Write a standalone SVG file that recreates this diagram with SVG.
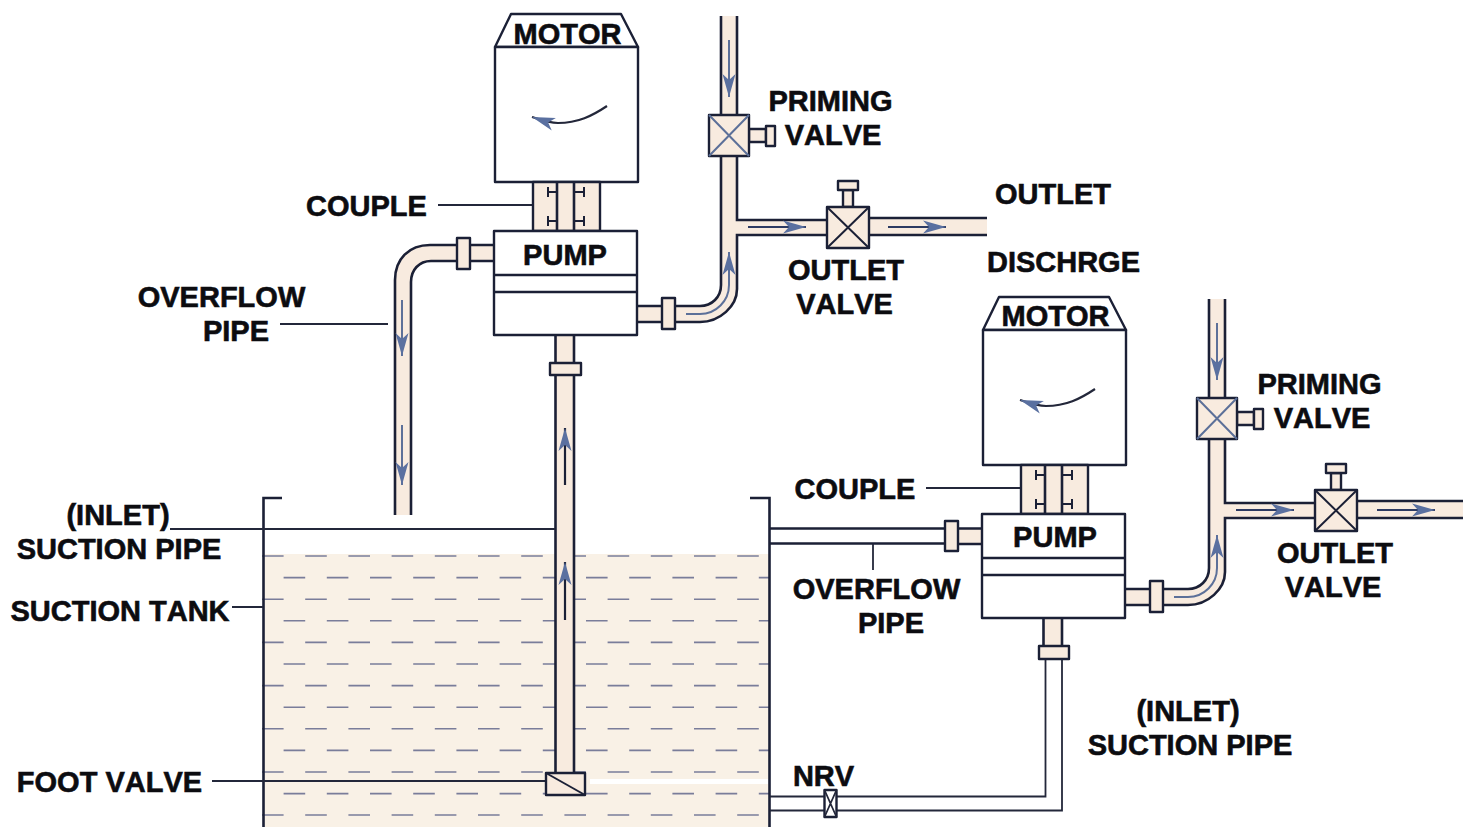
<svg xmlns="http://www.w3.org/2000/svg" xmlns:xlink="http://www.w3.org/1999/xlink" width="1468" height="827" viewBox="0 0 1468 827">
<style>
text{font-family:"Liberation Sans",Arial,sans-serif;font-weight:700;font-size:29px;fill:#0c0c10;text-anchor:middle;stroke:#0c0c10;stroke-width:.6;font-kerning:none}
.box{fill:#fff;stroke:#1b2036;stroke-width:2.4;stroke-linejoin:round}
.tan{fill:#f8ebdf;stroke:#1b2036;stroke-width:2.4;stroke-linejoin:round}
.fill{fill:#f8ebdf;stroke:none}
.ln{fill:none;stroke:#1b2036;stroke-width:2.6}
.thin{fill:none;stroke:#23273a;stroke-width:1.8}
.xb{fill:none;stroke:#5c7099;stroke-width:2}
.xd{fill:none;stroke:#1b2036;stroke-width:2}
.arr{fill:none;stroke:#2c3a62;stroke-width:2}
.dash{fill:none;stroke:#7a7d9a;stroke-width:1.6;stroke-dasharray:21.6 21.6}
</style>
<defs>
<marker id="head" markerUnits="userSpaceOnUse" markerWidth="26" markerHeight="16" refX="23" refY="8" orient="auto">
<path d="M0 1.500 L23 8 L0 14.500 L6 8 Z" fill="#5a70a0"/>
</marker>
<g id="motor-shape">
<path class="box" d="M495 47 L511 14 H621 L638 47 Z"/>
<rect class="box" x="495" y="47" width="143" height="135"/>
<path fill="none" stroke="#23273a" stroke-width="2.200" marker-end="url(#head)" d="M607 106 C592 116 578 123 558 123 C549 123 541 120 532 117"/>
</g>
<g id="coupling-shape">
<rect class="tan" x="533" y="182" width="67" height="49"/>
<path class="ln" d="M557 182 V231 M574 182 V231"/>
<path class="xd" d="M557 192 H548 M548 187 V197 M557 221 H548 M548 216 V226 M574 192 H584 M584 187 V197 M574 221 H584 M584 216 V226"/>
</g>
<g id="pump-shape">
<rect class="box" x="494" y="231" width="143" height="104"/>
<path class="ln" d="M494 275 H637 M494 292 H637"/>
</g>
<g id="priming-shape">
<rect class="tan" x="749" y="129" width="17" height="13"/>
<rect class="tan" x="766" y="126" width="9" height="20"/>
<rect class="tan" x="709" y="115" width="40" height="41"/>
<path class="xb" d="M709 115 L749 156 M749 115 L709 156"/>
</g>
<g id="outlet-shape">
<rect class="tan" x="843" y="190" width="10" height="17"/>
<rect class="tan" x="838" y="181" width="20" height="9"/>
<rect class="tan" x="827" y="207" width="42" height="41"/>
<path class="xd" d="M827 207 L869 248 M869 207 L827 248"/>
</g>
<g id="outlet-piping">
<path class="fill" d="M637 306 H700 C712 306 721 297 721 285 V16 H737 V220 H827 V235 H737 V285 C737 306 720 322 700 322 H637 Z"/>
<path class="ln" d="M637 306 H700 C712 306 721 297 721 285 V16 M737 16 V220 H827 M827 235 H737 V289 C737 306 720 322 700 322 H637"/>
<rect class="tan" x="662" y="298" width="13" height="31"/>
<path class="xb" stroke-width="2.500" marker-end="url(#head)" d="M729 40 V97"/>
<path class="xb" marker-end="url(#head)" d="M686 314 H700 C716 314 729 301 729 285 V252"/>
<path class="arr" marker-end="url(#head)" d="M748 227 H806"/>
</g>
</defs>

<g id="suction-tank">
<rect x="264" y="554" width="505" height="273" fill="#f9f1e6"/>
<path class="dash" d="M262 556 H769 M262 599.2 H769 M262 642.4 H769 M262 685.6 H769 M262 728.8 H769 M262 772 H769 M262 815 H769"/>
<path class="dash" d="M283.6 577.6 H769 M283.6 620.8 H769 M283.6 664 H769 M283.6 707.2 H769 M283.6 750.4 H769 M283.6 793.6 H769"/>
<rect x="590" y="779" width="178" height="5" fill="#fff"/>
<path class="ln" d="M282 498 H263.500 V827 M750 498 H769.500 V827"/>
</g>

<g id="connectors">
<path class="fill" d="M494 245 H430 C409 245 395 259 395 280 V515 H411 V282 C411 270 419 261 431 261 H494 Z"/>
<path class="ln" d="M494 245 H430 C409 245 395 259 395 280 V515 M411 515 V282 C411 270 419 261 431 261 H494"/>
<rect class="tan" x="457" y="238" width="13" height="31"/>
<path class="xb" stroke-width="2.500" marker-end="url(#head)" d="M402 300 V356"/>
<path class="xb" stroke-width="2.500" marker-end="url(#head)" d="M402 425 V485"/>
<use href="#outlet-piping" xlink:href="#outlet-piping"/>
<path class="fill" d="M869 218 H987 V235 H869 Z"/>
<path class="ln" d="M869 218 H987 M869 235 H987"/>
<path class="arr" marker-end="url(#head)" d="M888 227 H946"/>
<rect class="fill" x="555" y="335" width="19" height="438"/>
<path class="ln" d="M555.500 335 V773 M574 335 V773"/>
<rect class="tan" x="550" y="363" width="31" height="12"/>
<path d="M565 485 V428" fill="none" stroke="#1b2036" stroke-width="2.200" marker-end="url(#head)"/>
<path d="M565 620 V562" fill="none" stroke="#1b2036" stroke-width="2.200" marker-end="url(#head)"/>
<g transform="translate(488 283)"><use href="#outlet-piping" xlink:href="#outlet-piping"/></g>
<path class="fill" d="M1357 501 H1463 V518 H1357 Z"/>
<path class="ln" d="M1357 501 H1463 M1357 518 H1463"/>
<path class="arr" marker-end="url(#head)" d="M1377 510 H1435"/>
<path class="ln" d="M770 528.500 H945 M770 543.500 H945"/>
<path class="fill" d="M958 528 H983 V544 H958 Z"/>
<path class="ln" d="M958 528.500 H983 M958 544 H983"/>
<rect class="tan" x="945" y="521" width="13" height="30"/>
<path class="fill" d="M1043 618 H1062 V646 H1043 Z"/>
<path class="ln" d="M1043.500 618 V646 M1062 618 V646"/>
<path class="thin" d="M1045.500 659 V796.500 H770 M1062 659 V810.500 H770" stroke-width="2"/>
<rect class="tan" x="1039" y="646" width="30" height="13"/>
<path class="thin" d="M438 205 H562 M926 488 H1050 M280 324 H388 M170 529 H555 M232 607 H263 M212 781 H546 M873 544 V570"/>
</g>

<g id="motor-1"><use href="#motor-shape" xlink:href="#motor-shape"/><text x="567.500" y="44">MOTOR</text></g>
<g id="couple-1"><use href="#coupling-shape" xlink:href="#coupling-shape"/><text x="366.500" y="216">COUPLE</text></g>
<g id="pump-1"><use href="#pump-shape" xlink:href="#pump-shape"/><text x="565" y="265">PUMP</text></g>
<g id="priming-valve-1"><use href="#priming-shape" xlink:href="#priming-shape"/><text x="830.500" y="111">PRIMING</text><text x="833" y="145">VALVE</text></g>
<g id="outlet-valve-1"><use href="#outlet-shape" xlink:href="#outlet-shape"/><text x="846" y="280">OUTLET</text><text x="844.500" y="314">VALVE</text></g>
<g id="outlet-label"><text x="1053" y="204">OUTLET</text><text x="1063.500" y="272">DISCHRGE</text></g>
<g id="overflow-label-1"><text x="221.500" y="307">OVERFLOW</text><text x="236" y="341">PIPE</text></g>
<g id="suction-label-1"><text x="118" y="525">(INLET)</text><text x="119" y="559">SUCTION PIPE</text></g>
<g id="tank-label"><text x="120" y="621">SUCTION TANK</text></g>
<g id="foot-valve">
<rect class="tan" x="546" y="773" width="39" height="22"/>
<path class="xd" d="M546 773 L585 795"/>
<text x="109.500" y="792">FOOT VALVE</text>
</g>

<g id="motor-2"><g transform="translate(488 283)"><use href="#motor-shape" xlink:href="#motor-shape"/></g><text x="1055.500" y="326">MOTOR</text></g>
<g id="couple-2"><g transform="translate(488 283)"><use href="#coupling-shape" xlink:href="#coupling-shape"/></g><text x="855" y="499">COUPLE</text></g>
<g id="pump-2"><g transform="translate(488 283)"><use href="#pump-shape" xlink:href="#pump-shape"/></g><text x="1055" y="547">PUMP</text></g>
<g id="priming-valve-2"><g transform="translate(488 283)"><use href="#priming-shape" xlink:href="#priming-shape"/></g><text x="1319.500" y="394">PRIMING</text><text x="1322" y="428">VALVE</text></g>
<g id="outlet-valve-2"><g transform="translate(488 283)"><use href="#outlet-shape" xlink:href="#outlet-shape"/></g><text x="1335" y="563">OUTLET</text><text x="1333" y="597">VALVE</text></g>
<g id="overflow-label-2"><text x="876.500" y="599">OVERFLOW</text><text x="891" y="633">PIPE</text></g>
<g id="suction-label-2"><text x="1188" y="721">(INLET)</text><text x="1190" y="755">SUCTION PIPE</text></g>
<g id="nrv">
<rect class="box" x="824.500" y="790" width="12" height="27"/>
<path class="thin" d="M824.500 790 L836.500 817 M836.500 790 L824.500 817"/>
<text x="823.500" y="786">NRV</text>
</g>
</svg>
